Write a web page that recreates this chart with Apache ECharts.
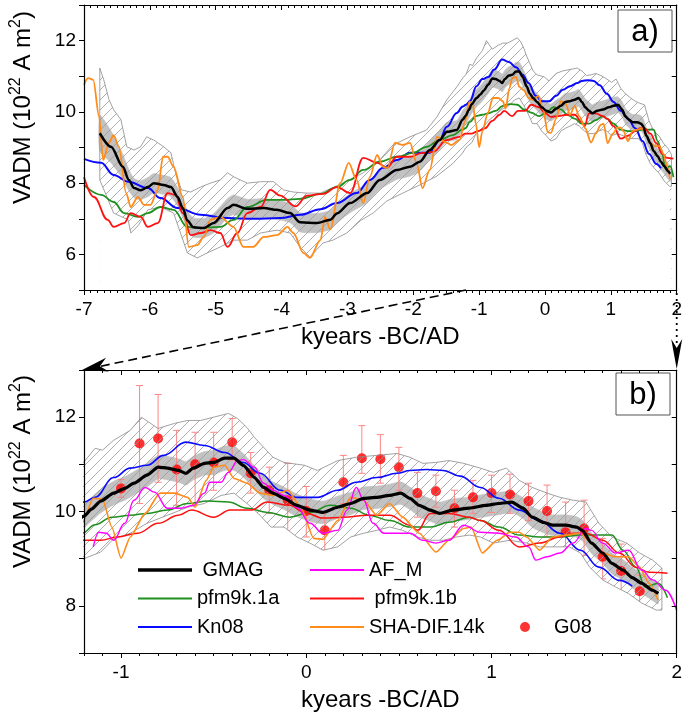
<!DOCTYPE html>
<html><head><meta charset="utf-8">
<script src="https://cdn.jsdelivr.net/npm/echarts@6/dist/echarts.min.js"></script>
<style>html,body{margin:0;padding:0;background:#fff}#c{width:685px;height:715px}</style>
</head><body><div id="c"></div>
<script>
const FONT = '"Liberation Sans", Arial, Helvetica, sans-serif';

// GMAG: [kyr, VADM, band half-width]
const gmag = [
[-6.76,9.40,0.50],[-6.59,9.02,0.45],[-6.41,8.46,0.35],[-6.32,8.09,0.30],[-6.24,7.86,0.27],[-6.14,7.80,0.27],[-6.02,7.90,0.27],[-5.94,8.00,0.27],[-5.79,7.95,0.27],[-5.68,7.89,0.27],[-5.58,7.62,0.27],[-5.50,7.30,0.27],[-5.43,6.95,0.27],[-5.34,6.76,0.27],[-5.18,6.74,0.27],[-5.03,6.88,0.27],[-4.82,7.30,0.27],[-4.73,7.39,0.28],[-4.52,7.28,0.27],[-4.27,7.30,0.27],[-4.07,7.25,0.27],[-3.87,7.16,0.27],[-3.72,6.90,0.27],[-3.46,6.88,0.27],[-3.26,6.97,0.27],[-3.16,7.15,0.27],[-2.96,7.44,0.27],[-2.70,7.72,0.27],[-2.51,8.09,0.27],[-2.25,8.37,0.27],[-2.05,8.46,0.27],[-1.90,8.60,0.27],[-1.75,8.93,0.27],[-1.60,9.21,0.27],[-1.49,9.44,0.27],[-1.34,9.49,0.27],[-1.25,9.78,0.26],
[-1.20,9.90,0.25],[-1.16,10.05,0.25],[-1.11,10.22,0.25],[-1.04,10.39,0.25],[-0.98,10.49,0.25],[-0.93,10.60,0.25],[-0.86,10.77,0.25],[-0.80,10.94,0.25],[-0.75,10.92,0.25],[-0.69,10.87,0.25],[-0.65,10.81,0.25],[-0.61,10.92,0.25],[-0.55,11.02,0.25],[-0.50,11.04,0.26],[-0.44,11.13,0.26],[-0.39,11.13,0.26],[-0.34,10.98,0.25],[-0.28,10.72,0.25],[-0.23,10.51,0.24],[-0.18,10.39,0.24],[-0.12,10.28,0.24],[-0.05,10.13,0.24],[0.02,10.03,0.24],[0.09,9.98,0.24],[0.17,10.09,0.24],[0.24,10.17,0.24],[0.31,10.28,0.24],[0.38,10.30,0.24],[0.45,10.34,0.24],[0.51,10.39,0.24],[0.56,10.28,0.24],[0.61,10.13,0.24],[0.67,10.03,0.24],[0.72,9.96,0.24],[0.79,10.03,0.24],[0.88,10.07,0.24],[0.97,10.13,0.24],[1.04,10.17,0.24],[1.11,10.20,0.22],[1.17,10.07,0.22],[1.22,9.88,0.22],[1.28,9.77,0.22],[1.33,9.71,0.22],[1.40,9.71,0.22],[1.46,9.67,0.22],[1.49,9.60,0.22],[1.54,9.33,0.22],[1.60,9.12,0.22],[1.65,8.90,0.22],[1.71,8.76,0.22],[1.76,8.60,0.22],[1.81,8.48,0.22],[1.87,8.33,0.22],[1.90,8.26,0.22]
];

const kn08 = [
[-7.00,8.68],[-6.74,8.57],[-6.55,8.23],[-6.33,8.04],[-6.03,7.86],[-5.84,7.58],[-5.58,7.30],[-5.23,7.11],[-4.82,7.02],[-4.43,7.00],[-4.02,7.02],[-3.72,7.11],[-3.41,7.27],[-3.16,7.44],[-2.86,7.72],[-2.66,8.09],[-2.46,8.43],[-2.25,8.65],[-2.05,8.85],[-1.75,8.85],[-1.60,9.21],[-1.49,9.58],[-1.34,9.97],[-1.25,10.15],
[-1.20,10.20],[-1.14,10.30],[-1.04,10.72],[-0.95,10.92],[-0.86,10.98],[-0.77,11.19],[-0.65,11.47],[-0.55,11.40],[-0.44,11.25],[-0.34,11.04],[-0.25,10.81],[-0.14,10.45],[-0.05,10.30],[0.06,10.30],[0.17,10.45],[0.27,10.62],[0.38,10.72],[0.49,10.81],[0.56,10.87],[0.65,10.89],[0.74,10.87],[0.83,10.75],[0.94,10.51],[1.04,10.28],[1.15,10.03],[1.26,9.81],[1.37,9.54],[1.48,9.18],[1.58,8.82],[1.69,8.54],[1.76,8.42]
];

const pfm1a = [
[-7.00,7.95],[-6.74,7.67],[-6.55,7.47],[-6.39,7.16],[-6.18,7.05],[-6.03,7.16],[-5.84,7.33],[-5.64,7.25],[-5.43,6.77],[-5.23,6.74],[-4.93,6.77],[-4.73,6.97],[-4.52,7.33],[-4.22,7.53],[-3.97,7.53],[-3.72,7.56],[-3.41,7.70],[-3.16,7.89],[-2.96,8.09],[-2.76,8.37],[-2.51,8.60],[-2.25,8.74],[-2.00,8.85],[-1.80,9.02],[-1.60,9.21],[-1.40,9.35],[-1.25,9.50],
[-1.21,9.54],[-1.14,9.72],[-1.05,9.88],[-0.95,9.92],[-0.86,9.96],[-0.75,10.03],[-0.64,10.17],[-0.53,10.22],[-0.42,10.20],[-0.32,10.07],[-0.21,9.98],[-0.09,9.88],[0.02,9.98],[0.13,10.13],[0.24,10.07],[0.34,9.92],[0.45,9.81],[0.56,9.67],[0.67,9.67],[0.77,9.77],[0.88,9.88],[0.94,9.81],[1.04,9.67],[1.15,9.50],[1.26,9.46],[1.37,9.46],[1.48,9.50],[1.65,9.50],[1.71,9.18],[1.78,8.82],[1.83,8.40],[1.90,8.48],[1.95,8.17]
];

const pfm1b = [
[-7.00,8.17],[-6.85,7.61],[-6.64,6.97],[-6.55,6.77],[-6.39,6.88],[-6.29,7.16],[-6.14,7.05],[-6.03,6.77],[-5.88,6.88],[-5.73,7.72],[-5.61,7.67],[-5.50,7.16],[-5.38,6.54],[-5.23,6.60],[-5.08,6.68],[-4.93,6.60],[-4.82,6.21],[-4.67,6.60],[-4.52,7.16],[-4.32,7.33],[-4.17,7.81],[-4.02,7.65],[-3.79,7.35],[-3.61,7.65],[-3.37,7.70],[-3.16,7.89],[-2.96,7.72],[-2.76,8.71],[-2.55,8.57],[-2.40,8.43],[-2.25,8.74],[-2.05,8.74],[-1.86,8.85],[-1.70,8.88],[-1.49,9.21],[-1.30,9.30],
[-1.21,9.39],[-1.11,9.39],[-1.02,9.46],[-0.91,9.54],[-0.80,9.75],[-0.69,9.92],[-0.62,10.03],[-0.50,9.88],[-0.41,10.03],[-0.30,10.03],[-0.21,10.20],[-0.09,10.13],[-0.01,9.98],[0.09,9.86],[0.20,9.88],[0.33,9.92],[0.45,9.92],[0.56,9.71],[0.60,9.60],[0.67,9.96],[0.77,9.96],[0.88,9.88],[0.94,9.81],[1.04,9.60],[1.15,9.25],[1.26,9.33],[1.37,9.46],[1.44,9.54],[1.51,9.54],[1.60,9.39],[1.69,9.12],[1.78,8.82],[1.85,8.71],[1.95,8.69]
];

const shadif = [
[-7.00,10.76],[-6.94,10.95],[-6.86,10.90],[-6.77,9.86],[-6.71,8.65],[-6.62,9.13],[-6.55,9.35],[-6.47,9.02],[-6.36,7.72],[-6.29,7.33],[-6.18,7.61],[-6.09,7.39],[-5.99,7.39],[-5.88,7.81],[-5.80,8.74],[-5.73,8.74],[-5.64,8.46],[-5.50,7.61],[-5.41,6.21],[-5.28,6.26],[-5.18,6.49],[-5.08,6.97],[-4.93,7.05],[-4.73,6.77],[-4.58,6.21],[-4.43,6.21],[-4.27,6.49],[-4.07,6.54],[-3.91,6.77],[-3.82,6.60],[-3.67,6.04],[-3.57,5.90],[-3.41,6.40],[-3.34,7.05],[-3.26,6.70],[-3.11,8.00],[-2.98,8.57],[-2.86,8.09],[-2.76,7.44],[-2.66,8.17],[-2.55,8.79],[-2.46,8.46],[-2.39,8.43],[-2.28,9.13],[-2.16,9.07],[-2.05,9.13],[-1.95,8.57],[-1.86,7.86],[-1.75,8.37],[-1.64,9.30],[-1.49,9.13],[-1.42,9.07],[-1.30,9.21],
[-1.21,9.75],[-1.15,10.28],[-1.10,10.26],[-1.05,9.67],[-1.00,9.01],[-0.95,9.46],[-0.87,9.96],[-0.79,10.39],[-0.71,10.39],[-0.64,10.30],[-0.60,10.09],[-0.54,10.66],[-0.50,10.94],[-0.44,10.98],[-0.39,10.70],[-0.32,10.60],[-0.25,10.39],[-0.18,10.34],[-0.10,10.45],[-0.03,10.09],[0.04,9.43],[0.09,9.41],[0.17,9.81],[0.24,10.30],[0.31,10.24],[0.38,9.92],[0.45,10.17],[0.52,9.88],[0.61,9.54],[0.70,9.14],[0.77,9.39],[0.85,9.64],[0.89,9.67],[0.95,9.12],[1.03,9.39],[1.10,9.56],[1.15,9.56],[1.19,9.46],[1.26,9.18],[1.33,9.46],[1.40,9.50],[1.48,9.54],[1.54,9.33],[1.60,9.12],[1.67,9.04],[1.74,9.04],[1.80,8.82],[1.85,8.48],[1.90,8.12]
];

const afm = [
[-1.15,9.25],[-1.12,9.56],[-1.08,9.54],[-1.04,9.39],[-0.98,9.75],[-0.93,10.24],[-0.87,10.51],[-0.82,10.41],[-0.75,10.07],[-0.68,10.07],[-0.61,10.13],[-0.55,10.39],[-0.52,10.62],[-0.46,10.62],[-0.42,10.83],[-0.37,11.08],[-0.34,11.10],[-0.28,10.94],[-0.23,10.60],[-0.18,10.45],[-0.12,10.34],[-0.05,10.09],[0.02,9.75],[0.09,9.54],[0.17,9.60],[0.22,10.03],[0.27,10.51],[0.31,10.24],[0.36,9.75],[0.42,9.54],[0.49,9.54],[0.56,9.54],[0.63,9.39],[0.70,9.33],[0.77,9.39],[0.85,9.71],[0.94,9.56],[1.04,9.54],[1.13,9.46],[1.20,9.25],[1.24,8.97],[1.30,9.04],[1.37,9.12],[1.44,9.33],[1.51,9.64],[1.54,9.60],[1.60,9.33],[1.67,9.12],[1.74,9.18],[1.81,8.76],[1.87,8.55],[1.94,8.33],[2.00,7.90]
];

// G08: [kyr, VADM, low, high]
const g08 = [
[-1.0,10.49,10.30,10.68],[-0.9,11.44,10.17,12.67],[-0.8,11.55,10.62,12.48],[-0.7,10.89,10.13,11.72],[-0.6,11.00,10.13,11.68],[-0.5,11.04,10.45,11.68],[-0.4,11.47,11.09,11.97],[-0.3,10.81,10.39,11.25],[-0.2,10.45,9.96,10.94],[-0.1,10.24,9.50,11.02],[0.0,10.01,9.46,10.53],[0.1,9.60,9.18,9.98],[0.2,10.62,10.17,11.19],[0.3,11.13,10.81,11.82],[0.4,11.11,10.60,11.63],[0.5,10.94,10.45,11.36],[0.6,10.39,9.88,10.83],[0.7,10.43,10.09,10.77],[0.8,10.07,9.67,10.45],[0.9,10.30,9.96,10.66],[1.0,10.39,9.98,10.77],[1.1,10.36,9.96,10.79],[1.2,10.22,9.81,10.60],[1.3,10.01,9.46,10.56],[1.4,9.56,8.90,10.20],[1.5,9.64,9.07,10.24],[1.6,9.04,8.57,9.43],[1.7,8.74,8.16,9.31],[1.8,8.31,7.74,8.65]
];

const envUpper = [
[-6.76,8.09],[-6.76,11.23],[-6.70,10.90],[-6.62,10.34],[-6.55,10.06],[-6.44,9.78],[-6.35,9.02],[-6.24,8.93],[-6.14,9.02],[-6.05,9.30],[-5.94,9.21],[-5.79,9.02],[-5.68,8.85],[-5.61,8.29],[-5.52,7.81],[-5.38,7.75],[-5.23,7.89],[-5.08,8.00],[-4.93,8.09],[-4.82,8.29],[-4.72,8.17],[-4.52,8.00],[-4.32,8.04],[-4.12,8.04],[-3.97,7.81],[-3.82,7.75],[-3.62,7.72],[-3.41,7.72],[-3.01,8.05],[-2.76,8.29],[-2.55,8.57],[-2.31,9.07],[-2.05,9.30],[-1.80,9.49],[-1.64,9.86],[-1.49,10.34],[-1.34,10.70],[-1.25,10.95],
[-1.20,11.05],[-1.14,11.34],[-1.10,11.30],[-1.04,11.51],[-0.95,11.72],[-0.89,12.00],[-0.80,11.76],[-0.71,11.87],[-0.64,11.93],[-0.57,11.93],[-0.50,12.00],[-0.42,12.08],[-0.37,11.97],[-0.32,11.78],[-0.28,11.57],[-0.23,11.36],[-0.18,11.15],[-0.12,11.04],[-0.01,10.98],[0.06,10.87],[0.17,11.08],[0.27,11.15],[0.38,11.19],[0.49,11.23],[0.56,11.15],[0.63,11.02],[0.70,11.04],[0.77,11.08],[0.85,11.02],[0.94,10.92],[1.01,10.83],[1.08,10.92],[1.15,10.66],[1.22,10.51],[1.30,10.39],[1.37,10.30],[1.44,10.24],[1.51,10.20],[1.58,9.75],[1.65,9.46],[1.73,9.33],[1.80,9.12],[1.87,8.97],[1.92,8.80],[1.92,7.91]
];

const envLower = [
[-6.76,8.09],[-6.55,7.16],[-6.33,6.97],[-6.29,6.60],[-6.18,6.80],[-6.03,7.25],[-5.84,7.33],[-5.64,7.16],[-5.43,6.04],[-5.28,5.90],[-5.13,6.04],[-4.93,6.21],[-4.73,6.40],[-4.52,6.40],[-4.32,6.60],[-4.07,6.68],[-3.87,6.60],[-3.72,6.21],[-3.57,5.93],[-3.37,6.32],[-3.22,6.40],[-3.01,6.60],[-2.80,6.95],[-2.61,7.16],[-2.40,7.50],[-2.16,7.72],[-1.90,7.95],[-1.64,8.20],[-1.40,8.55],[-1.25,8.85],
[-1.20,9.00],[-1.11,9.14],[-1.04,9.42],[-0.95,9.54],[-0.86,9.75],[-0.75,9.92],[-0.64,10.09],[-0.55,10.17],[-0.46,10.34],[-0.39,10.39],[-0.32,10.17],[-0.26,9.96],[-0.19,9.67],[-0.12,9.67],[-0.05,9.46],[0.02,9.33],[0.09,9.18],[0.17,9.25],[0.24,9.46],[0.31,9.54],[0.38,9.60],[0.45,9.67],[0.52,9.60],[0.60,9.46],[0.67,9.39],[0.74,9.39],[0.81,9.46],[0.88,9.50],[0.94,9.46],[1.01,9.33],[1.10,9.39],[1.19,9.33],[1.26,9.25],[1.35,9.25],[1.42,9.25],[1.48,9.12],[1.53,8.82],[1.60,8.55],[1.67,8.40],[1.74,8.26],[1.81,8.06],[1.89,7.91],[1.92,7.91]
];

const yLabelsA = [6, 8, 10, 12];
const yLabelsB = [8, 10, 12];
const xLabelsB = [-1, 0, 1, 2];
const legendCol1 = ['GMAG', 'pfm9k.1a', 'Kn08'];
const legendCol2 = ['AF_M', 'pfm9k.1b', 'SHA-DIF.14k'];
const legendCol3 = ['G08'];

const COL = {GMAG:'#000000', Kn08:'#0a0aff', 'pfm9k.1a':'#1f8f1f', 'pfm9k.1b':'#ff1010', 'SHA-DIF.14k':'#ff8c1a', AF_M:'#ff00ff', G08:'#ff0000'};

function hatchCanvas(step){
  const c = document.createElement('canvas'); c.width = step; c.height = step;
  const g = c.getContext('2d'); g.strokeStyle = '#9a9a9a'; g.lineWidth = 0.8;
  g.beginPath();
  g.moveTo(0, step); g.lineTo(step, 0);
  g.moveTo(-step/2, step/2); g.lineTo(step/2, -step/2);
  g.moveTo(step/2, step*1.5); g.lineTo(step*1.5, step/2);
  g.stroke(); return c;
}
const hatch = hatchCanvas(10);

const chart = echarts.init(document.getElementById('c'));

const tickStyle = {color:'#000', width:1};
function xAxisMain(grid, min, max, extra){
  return Object.assign({gridIndex:grid, type:'value', min:min, max:max, position:'bottom', z:5,
    axisLine:{onZero:false, lineStyle:{color:'#000', width:1.2}}, splitLine:{show:false},
    axisTick:{length:5, lineStyle:tickStyle},
    axisLabel:{fontSize:19, color:'#000', fontFamily:FONT, margin:10},
    name:'kyears -BC/AD', nameLocation:'middle', nameGap:35,
    nameTextStyle:{fontSize:24, color:'#000', fontFamily:FONT}}, extra);
}
function plainAxis(grid, min, max, pos, extra){
  return Object.assign({gridIndex:grid, type:'value', min:min, max:max, position:pos, z:5,
    axisLine:{onZero:false, lineStyle:{color:'#000', width:1.2}}, splitLine:{show:false},
    axisLabel:{show:false}}, extra);
}
const yName = 'VADM (10{s|22} A m{s|2})';
const yNameStyle = {fontSize:24, color:'#000', fontFamily:FONT, lineHeight:30, padding:[0,0,0,80],
  rich:{s:{fontSize:16, color:'#000', fontFamily:FONT, verticalAlign:'top', lineHeight:16}}};

const xAxes = [
  xAxisMain(0, -7, 2, {interval:1, minorTick:{show:true, splitNumber:10, length:3, lineStyle:tickStyle}}),
  plainAxis(0, -7, 2, 'top', {interval:1, axisTick:{inside:true, length:5, lineStyle:tickStyle}, minorTick:{show:true, splitNumber:10, length:3, lineStyle:tickStyle}}),
  xAxisMain(1, -1.2, 2, {axisTick:{length:5, lineStyle:tickStyle, customValues:xLabelsB}, axisLabel:{fontSize:19, color:'#000', fontFamily:FONT, margin:10, customValues:xLabelsB}}),
  plainAxis(1, -1.2, 2, 'bottom', {interval:0.1, axisLine:{show:false, onZero:false}, axisTick:{length:3, lineStyle:tickStyle}}),
  plainAxis(1, -1.2, 2, 'top', {axisTick:{inside:true, length:5, lineStyle:tickStyle, customValues:xLabelsB}}),
  plainAxis(1, -1.2, 2, 'top', {interval:0.1, axisLine:{show:false, onZero:false}, axisTick:{inside:true, length:3, lineStyle:tickStyle}})
];
const yAxes = [
  plainAxis(0, 5, 13, 'left', {interval:1, axisTick:{length:5, lineStyle:tickStyle},
    axisLabel:{show:true, fontSize:19, color:'#000', fontFamily:FONT, margin:8, customValues:yLabelsA},
    name:yName, nameLocation:'middle', nameGap:46, nameTextStyle:yNameStyle}),
  plainAxis(0, 5, 13, 'right', {interval:1, axisTick:{inside:true, length:5, lineStyle:tickStyle}}),
  plainAxis(1, 7, 13, 'left', {interval:1, axisTick:{length:5, lineStyle:tickStyle},
    axisLabel:{show:true, fontSize:19, color:'#000', fontFamily:FONT, margin:8, customValues:yLabelsB},
    name:yName, nameLocation:'middle', nameGap:46, nameTextStyle:yNameStyle}),
  plainAxis(1, 7, 13, 'right', {interval:1, axisTick:{inside:true, length:5, lineStyle:tickStyle}})
];

function lineS(name, data, xi, yi, width, smooth){
  return {type:'line', name:name, xAxisIndex:xi, yAxisIndex:yi, data:data, symbol:'none', showSymbol:false,
    smooth:smooth, smoothMonotone:'x',
    color:COL[name], lineStyle:{color:COL[name], width:width}, silent:true};
}
function envS(xi, yi){
  return [
    {type:'line', xAxisIndex:xi, yAxisIndex:yi, data:envUpper, symbol:'none', silent:true,
      lineStyle:{color:'#8a8a8a', width:0.8}, areaStyle:{color:{image:hatch, repeat:'repeat'}, origin:'start', opacity:1}},
    {type:'line', xAxisIndex:xi, yAxisIndex:yi, data:envLower, symbol:'none', silent:true,
      lineStyle:{color:'#8a8a8a', width:0.8}, areaStyle:{color:'#ffffff', origin:'start', opacity:1}}
  ];
}
// uncertainty band around GMAG, drawn as one polygon through the axes' scales
function bandS(xi, yi){
  return {type:'custom', xAxisIndex:xi, yAxisIndex:yi, clip:true, silent:true,
    data:gmag.map(p => [p[0], p[1]-p[2], p[1]+p[2]]), encode:{x:0, y:[1,2]},
    renderItem:function(params, api){
      if (params.dataIndex !== 0) return null;
      const pts = [];
      for (let i = 0; i < gmag.length; i++) pts.push(api.coord([gmag[i][0], gmag[i][1] + gmag[i][2]]));
      for (let i = gmag.length - 1; i >= 0; i--) pts.push(api.coord([gmag[i][0], gmag[i][1] - gmag[i][2]]));
      return {type:'polygon', shape:{points:pts, smooth:0.2}, style:{fill:'#c2c2c2', stroke:'#c2c2c2', lineWidth:0.5}};
    }};
}
const gmagLine = gmag.map(p => [p[0], p[1]]);

const series = [].concat(
  envS(0,0), [bandS(0,0)],
  [lineS('Kn08', kn08, 0,0, 2, 0.4), lineS('pfm9k.1a', pfm1a, 0,0, 1.8, 0.4), lineS('pfm9k.1b', pfm1b, 0,0, 1.8, 0.4), lineS('SHA-DIF.14k', shadif, 0,0, 1.8, 0.3),
   lineS('GMAG', gmagLine, 0,0, 2.5, 0.3)],
  envS(2,2), [bandS(2,2)],
  [lineS('Kn08', kn08, 2,2, 1.6, 0.4), lineS('pfm9k.1a', pfm1a, 2,2, 1.5, 0.4), lineS('pfm9k.1b', pfm1b, 2,2, 1.5, 0.4), lineS('SHA-DIF.14k', shadif, 2,2, 1.6, 0.2),
   lineS('AF_M', afm, 2,2, 1.4, 0.4), lineS('GMAG', gmagLine, 2,2, 3.2, 0.2),
   {type:'custom', name:'G08err', xAxisIndex:2, yAxisIndex:2, silent:true,
     data:g08.map(p => [p[0], p[2], p[3]]), encode:{x:0, y:[1,2]},
     renderItem:function(params, api){
       const x = api.value(0);
       const lo = api.coord([x, api.value(1)]), hi = api.coord([x, api.value(2)]);
       const w = 3.5, st = {stroke:'#ff8585', lineWidth:1};
       return {type:'group', children:[
         {type:'line', shape:{x1:lo[0], y1:lo[1], x2:hi[0], y2:hi[1]}, style:st},
         {type:'line', shape:{x1:lo[0]-w, y1:lo[1], x2:lo[0]+w, y2:lo[1]}, style:st},
         {type:'line', shape:{x1:hi[0]-w, y1:hi[1], x2:hi[0]+w, y2:hi[1]}, style:st}
       ]};
     }},
   {type:'scatter', name:'G08', xAxisIndex:2, yAxisIndex:2, data:g08.map(p => [p[0], p[1]]), symbol:'circle', symbolSize:10,
     itemStyle:{color:COL.G08}, color:COL.G08, silent:true}]
);

const thinIcon = 'path://M0,0H54V1.8H0Z';
const thickIcon = 'path://M0,0H54V3.6H0Z';
const legendText = {fontSize:20, color:'#000', fontFamily:FONT, lineHeight:20};
chart.setOption({
  animation:false,
  grid:[{left:83, top:5, width:595, height:285}, {left:83, top:370, width:596, height:283}],
  xAxis:xAxes, yAxis:yAxes,
  legend:[
    {data:legendCol1.map(n => ({name:n, icon:(n === 'GMAG' ? thickIcon : thinIcon)})), left:138, top:560, orient:'vertical', itemWidth:54, itemHeight:14, itemGap:8.5, padding:0,
      selectedMode:false, textStyle:legendText, formatter:n => (n === 'GMAG' ? ' GMAG' : n)},
    {data:legendCol2.map(n => ({name:n, icon:thinIcon})), left:310, top:560, orient:'vertical', itemWidth:54, itemHeight:14, itemGap:8.5, padding:0,
      selectedMode:false, textStyle:legendText, formatter:n => (n === 'pfm9k.1b' ? ' pfm9k.1b' : n)},
    {data:legendCol3.map(n => ({name:n, icon:'circle'})), left:520, top:617, orient:'vertical', itemWidth:48, itemHeight:10, padding:0,
      selectedMode:false, textStyle:legendText}
  ],
  series:series
});

// annotations
const pA = chart.convertToPixel({xAxisIndex:0, yAxisIndex:0}, [-1.2, 5]);
const pB = chart.convertToPixel({xAxisIndex:2, yAxisIndex:2}, [-1.2, 13]);
const qA = chart.convertToPixel({xAxisIndex:0, yAxisIndex:0}, [2, 5]);
const qB = chart.convertToPixel({xAxisIndex:2, yAxisIndex:2}, [2, 13]);
function arrowHead(tip, from, len, half){
  const dx = tip[0]-from[0], dy = tip[1]-from[1], L = Math.hypot(dx, dy);
  const ux = dx/L, uy = dy/L, px = -uy, py = ux;
  const bx = tip[0]-ux*len, by = tip[1]-uy*len;
  const nx = tip[0]-ux*len*0.7, ny = tip[1]-uy*len*0.7;
  return {type:'polygon', z:100, shape:{points:[[tip[0],tip[1]],[bx+px*half,by+py*half],[nx,ny],[bx-px*half,by-py*half]]}, style:{fill:'#000'}};
}
const tipB = [pB[0]-2, pB[1]];
const tipQ = [qB[0], qB[1]-1];
chart.setOption({graphic:[
  {type:'line', z:100, shape:{x1:pA[0], y1:pA[1], x2:tipB[0]+15, y2:tipB[1]-3}, style:{stroke:'#000', lineWidth:1.6, lineDash:[9,5]}},
  arrowHead(tipB, pA, 26, 7),
  {type:'line', z:100, shape:{x1:qA[0], y1:qA[1]+3, x2:tipQ[0], y2:tipQ[1]-22}, style:{stroke:'#000', lineWidth:1.8, lineDash:[2,4]}},
  arrowHead(tipQ, qA, 30, 5.5),
  {type:'group', z:100, children:[
    {type:'rect', shape:{x:618, y:10, width:54, height:42}, style:{fill:'#fff', stroke:'#555', lineWidth:1}},
    {type:'text', x:645, y:32, style:{text:'a)', fontSize:31, fontFamily:FONT, fill:'#000', align:'center', verticalAlign:'middle'}}
  ]},
  {type:'group', z:100, children:[
    {type:'rect', shape:{x:616, y:373, width:54, height:42}, style:{fill:'#fff', stroke:'#555', lineWidth:1}},
    {type:'text', x:643, y:395, style:{text:'b)', fontSize:31, fontFamily:FONT, fill:'#000', align:'center', verticalAlign:'middle'}}
  ]}
]});
</script>
</body></html>
